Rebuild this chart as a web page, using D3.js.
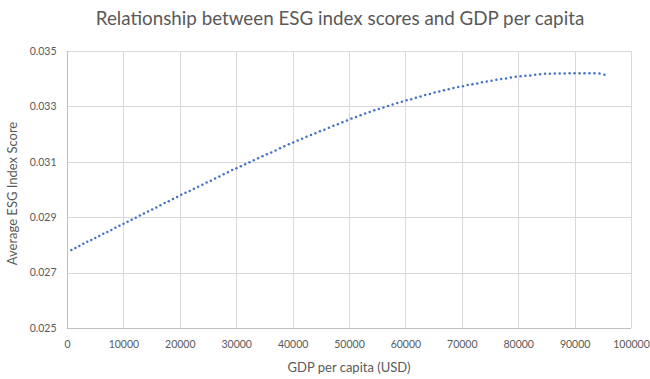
<!DOCTYPE html>
<html>
<head>
<meta charset="utf-8">
<script src="https://cdn.jsdelivr.net/npm/d3@7"></script>
<style>
  html, body { margin: 0; padding: 0; background: #ffffff; }
  svg { display: block; }
  text { font-family: Lato, "Open Sans", sans-serif; fill: #595959; }
</style>
</head>
<body>
<div id="chart"></div>
<script>
// GDP per capita (USD) of each observation
const gdpPerCapita = [
  781, 1482, 2185, 2889, 3594, 4302, 5011, 5721, 6433, 7147,
  7862, 8579, 9297, 10017, 10739, 11462, 12187, 12913, 13641, 14370,
  15101, 15834, 16568, 17304, 18041, 18780, 19521, 20263, 21006, 21751,
  22498, 23247, 23997, 24748, 25501, 26256, 27012, 27770, 28530, 29291,
  30053, 30818, 31583, 32351, 33120, 33890, 34662, 35436, 36211, 36988,
  37767, 38547, 39328, 40111, 40896, 41682, 42470, 43260, 44051, 44843,
  45638, 46433, 47231, 48030, 48830, 49632, 50436, 51241, 52048, 52857,
  53667, 54478, 55291, 56106, 56922, 57740, 58560, 59381, 60203, 61027,
  61853, 62680, 63509, 64340, 65172, 66005, 66840, 67677, 68515, 69355,
  70197, 71040, 71884, 72730, 73578, 74427, 75278, 76131, 76985, 77840,
  78702, 79561, 80422, 81284, 82148, 83013, 83880, 84748, 85618, 86490,
  87363, 88238, 89114, 89992, 90872, 91753, 92636, 93520, 94406, 95293
];

// Average ESG index score for each observation
const esgScore = [
  0.02782, 0.02789, 0.02796, 0.02804, 0.02811, 0.02818, 0.02825, 0.02832, 0.02840, 0.02847,
  0.02854, 0.02862, 0.02869, 0.02876, 0.02884, 0.02891, 0.02898, 0.02906, 0.02913, 0.02921,
  0.02928, 0.02935, 0.02943, 0.02951, 0.02958, 0.02966, 0.02973, 0.02981, 0.02988, 0.02995,
  0.03003, 0.03010, 0.03017, 0.03025, 0.03032, 0.03040, 0.03047, 0.03055, 0.03062, 0.03070,
  0.03077, 0.03084, 0.03091, 0.03098, 0.03106, 0.03113, 0.03120, 0.03127, 0.03134, 0.03141,
  0.03149, 0.03156, 0.03163, 0.03170, 0.03177, 0.03183, 0.03190, 0.03197, 0.03203, 0.03210,
  0.03216, 0.03223, 0.03230, 0.03236, 0.03243, 0.03249, 0.03256, 0.03262, 0.03268, 0.03274,
  0.03280, 0.03286, 0.03291, 0.03296, 0.03301, 0.03307, 0.03312, 0.03317, 0.03322, 0.03326,
  0.03331, 0.03336, 0.03341, 0.03345, 0.03350, 0.03354, 0.03358, 0.03362, 0.03366, 0.03370,
  0.03373, 0.03377, 0.03380, 0.03383, 0.03387, 0.03390, 0.03393, 0.03396, 0.03399, 0.03401,
  0.03404, 0.03407, 0.03409, 0.03411, 0.03412, 0.03414, 0.03416, 0.03418, 0.03418, 0.03419,
  0.03419, 0.03419, 0.03420, 0.03420, 0.03420, 0.03420, 0.03420, 0.03420, 0.03419, 0.03414
];

// Axis ticks
const xTicks = [0, 10000, 20000, 30000, 40000, 50000, 60000, 70000, 80000, 90000, 100000];
const yTicks = [0.025, 0.027, 0.029, 0.031, 0.033, 0.035];

const chartTitle = "Relationship between ESG index scores and GDP per capita";
const xTitle = "GDP per capita (USD)";
const yTitle = "Average ESG Index Score";

const width = 650, height = 379;
const margin = { top: 51, right: 19, bottom: 51, left: 67 };

const svg = d3.select("#chart").append("svg")
  .attr("width", width)
  .attr("height", height);

const x = d3.scaleLinear()
  .domain([0, 100000])
  .range([margin.left, width - margin.right]);

const y = d3.scaleLinear()
  .domain([0.025, 0.035])
  .range([height - margin.bottom, margin.top]);

// Gridlines
const grid = svg.append("g").attr("class", "grid");
grid.selectAll("line.v").data(xTicks).join("line")
  .attr("class", "v")
  .attr("x1", d => Math.round(x(d)) + 0.5).attr("x2", d => Math.round(x(d)) + 0.5)
  .attr("y1", y(0.035)).attr("y2", y(0.025))
  .attr("stroke", "#d9d9d9").attr("stroke-width", 1);
grid.selectAll("line.h").data(yTicks).join("line")
  .attr("class", "h")
  .attr("x1", x(0)).attr("x2", x(100000))
  .attr("y1", d => Math.round(y(d)) + 0.5).attr("y2", d => Math.round(y(d)) + 0.5)
  .attr("stroke", "#d9d9d9").attr("stroke-width", 1);

// Axes (labels only; lines drawn separately)
const xAxis = d3.axisBottom(x).tickValues(xTicks).tickFormat(d3.format("d")).tickSize(0).tickPadding(12);
const yAxis = d3.axisLeft(y).tickValues(yTicks).tickFormat(d3.format(".3f")).tickSize(0).tickPadding(11);

const gx = svg.append("g")
  .attr("transform", `translate(0,${Math.round(y(0.025)) + 0.5})`)
  .call(xAxis);
const gy = svg.append("g")
  .attr("transform", `translate(${Math.round(x(0)) + 0.5},0)`)
  .call(yAxis);

[gx, gy].forEach(g => {
  g.select(".domain").remove();
  g.selectAll("text")
    .attr("fill", "#595959")
    .style("font-family", "Lato, 'Open Sans', sans-serif")
    .style("font-size", "10.5px");
});

// Axis lines
svg.append("line")
  .attr("x1", x(0)).attr("x2", x(100000))
  .attr("y1", Math.round(y(0.025)) + 0.5).attr("y2", Math.round(y(0.025)) + 0.5)
  .attr("stroke", "#bfbfbf");
svg.append("line")
  .attr("x1", Math.round(x(0)) + 0.5).attr("x2", Math.round(x(0)) + 0.5)
  .attr("y1", y(0.035)).attr("y2", y(0.025))
  .attr("stroke", "#bfbfbf");

// Data points
const points = gdpPerCapita.map((g, i) => ({ g, s: esgScore[i] }));
svg.append("g").selectAll("circle").data(points).join("circle")
  .attr("cx", d => x(d.g))
  .attr("cy", d => y(d.s))
  .attr("r", 1.25)
  .attr("fill", "#4472c4");

// Titles
svg.append("text")
  .attr("x", 340).attr("y", 25)
  .attr("text-anchor", "middle")
  .style("font-size", "18.8px")
  .text(chartTitle);

svg.append("text")
  .attr("x", (x(0) + x(100000)) / 2).attr("y", 372)
  .attr("text-anchor", "middle")
  .style("font-size", "13px")
  .text(xTitle);

svg.append("text")
  .attr("transform", `translate(17,${(y(0.025) + y(0.035)) / 2 + 4}) rotate(-90)`)
  .attr("text-anchor", "middle")
  .style("font-size", "13px")
  .text(yTitle);
</script>
</body>
</html>
